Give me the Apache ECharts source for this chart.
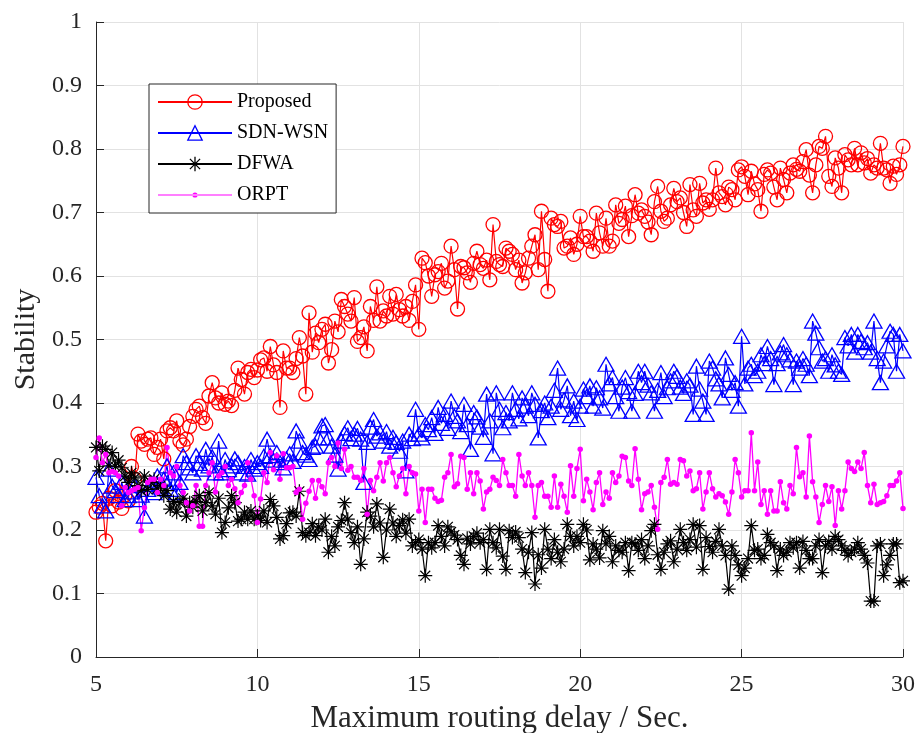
<!DOCTYPE html>
<html>
<head>
<meta charset="utf-8">
<script src="https://cdn.jsdelivr.net/npm/echarts@6/dist/echarts.min.js"></script>
<style>
html,body{margin:0;padding:0;background:#fff;}
#chart{width:920px;height:733px;}
</style>
</head>
<body>
<div id="chart"></div>
<script>
// x grid: 5 to 30 in steps of 0.1 (251 samples)
const xStart = 5, xStep = 0.1;
const xTicks = [5, 10, 15, 20, 25, 30];
const yTicks = [0, 0.1, 0.2, 0.3, 0.4, 0.5, 0.6, 0.7, 0.8, 0.9, 1];
const seriesNames = ['Proposed', 'SDN-WSN', 'DFWA', 'ORPT'];

const proposed = [
0.228,0.236,0.242,0.183,0.250,0.238,0.262,0.244,0.234,0.255,
0.246,0.300,0.280,0.351,0.340,0.335,0.343,0.345,0.319,0.330,
0.343,0.312,0.356,0.361,0.356,0.372,0.340,0.334,0.343,0.363,
0.379,0.390,0.395,0.377,0.368,0.411,0.432,0.408,0.400,0.416,
0.398,0.403,0.396,0.420,0.455,0.437,0.414,0.448,0.453,0.440,
0.452,0.468,0.471,0.450,0.489,0.460,0.448,0.393,0.482,0.455,
0.455,0.448,0.470,0.503,0.474,0.414,0.542,0.480,0.510,0.495,
0.516,0.524,0.463,0.484,0.529,0.512,0.563,0.552,0.540,0.529,
0.566,0.497,0.503,0.520,0.482,0.552,0.530,0.583,0.529,0.545,
0.537,0.568,0.540,0.571,0.547,0.537,0.552,0.530,0.560,0.586,
0.516,0.628,0.621,0.600,0.568,0.602,0.607,0.620,0.581,0.592,
0.647,0.610,0.548,0.615,0.613,0.605,0.590,0.620,0.639,0.618,
0.612,0.625,0.594,0.681,0.623,0.618,0.615,0.644,0.639,0.634,
0.610,0.625,0.589,0.605,0.628,0.647,0.665,0.610,0.702,0.626,
0.576,0.691,0.681,0.678,0.686,0.644,0.647,0.660,0.634,0.650,
0.694,0.662,0.662,0.655,0.639,0.699,0.668,0.647,0.691,0.647,
0.655,0.712,0.683,0.689,0.710,0.662,0.695,0.728,0.699,0.704,
0.694,0.685,0.665,0.717,0.741,0.702,0.686,0.691,0.712,0.738,
0.717,0.723,0.700,0.678,0.744,0.704,0.694,0.746,0.715,0.720,
0.705,0.720,0.770,0.731,0.725,0.712,0.740,0.736,0.720,0.767,
0.772,0.757,0.728,0.765,0.745,0.736,0.702,0.760,0.767,0.762,
0.740,0.720,0.770,0.752,0.731,0.762,0.775,0.768,0.765,0.780,
0.799,0.759,0.731,0.775,0.804,0.801,0.820,0.757,0.741,0.786,
0.770,0.731,0.791,0.783,0.775,0.801,0.775,0.794,0.778,0.785,
0.762,0.775,0.770,0.809,0.770,0.767,0.746,0.773,0.760,0.775,
0.804];

const sdnWsn = [
0.283,0.254,0.238,0.230,0.296,0.269,0.262,0.254,0.275,0.248,
0.254,0.260,0.270,0.248,0.255,0.222,0.264,0.272,0.259,0.285,
0.268,0.280,0.301,0.264,0.290,0.259,0.275,0.317,0.306,0.298,
0.290,0.317,0.305,0.296,0.327,0.301,0.315,0.290,0.340,0.290,
0.311,0.295,0.301,0.312,0.306,0.290,0.300,0.288,0.311,0.296,
0.306,0.300,0.316,0.343,0.317,0.310,0.322,0.306,0.298,0.312,
0.320,0.308,0.356,0.340,0.322,0.318,0.311,0.330,0.332,0.345,
0.364,0.366,0.345,0.332,0.318,0.296,0.340,0.352,0.361,0.344,
0.351,0.360,0.343,0.275,0.338,0.362,0.374,0.348,0.353,0.340,
0.355,0.332,0.346,0.338,0.324,0.340,0.293,0.351,0.344,0.390,
0.351,0.345,0.366,0.358,0.377,0.352,0.393,0.368,0.382,0.360,
0.403,0.379,0.372,0.355,0.398,0.366,0.327,0.385,0.378,0.362,
0.346,0.414,0.372,0.320,0.416,0.390,0.361,0.385,0.372,0.416,
0.390,0.375,0.408,0.395,0.380,0.416,0.398,0.345,0.388,0.400,
0.377,0.395,0.420,0.455,0.390,0.405,0.427,0.380,0.403,0.374,
0.395,0.422,0.410,0.427,0.395,0.424,0.408,0.392,0.461,0.430,
0.440,0.410,0.387,0.425,0.440,0.418,0.387,0.415,0.450,0.432,
0.450,0.428,0.416,0.387,0.420,0.448,0.410,0.424,0.435,0.450,
0.442,0.425,0.415,0.435,0.428,0.382,0.458,0.422,0.403,0.382,
0.466,0.455,0.438,0.430,0.408,0.471,0.445,0.420,0.432,0.395,
0.505,0.430,0.455,0.461,0.443,0.450,0.476,0.462,0.489,0.470,
0.429,0.462,0.479,0.492,0.476,0.468,0.429,0.466,0.455,0.470,
0.461,0.443,0.529,0.510,0.487,0.466,0.470,0.450,0.476,0.460,
0.450,0.445,0.503,0.490,0.508,0.480,0.508,0.497,0.487,0.495,
0.480,0.529,0.470,0.432,0.466,0.490,0.513,0.508,0.450,0.508,
0.482];

const dfwa = [
0.330,0.293,0.332,0.327,0.301,0.322,0.300,0.310,0.298,0.285,
0.275,0.290,0.282,0.270,0.262,0.285,0.264,0.275,0.280,0.265,
0.270,0.254,0.262,0.233,0.245,0.228,0.243,0.250,0.222,0.243,
0.236,0.245,0.254,0.230,0.243,0.259,0.238,0.225,0.250,0.196,
0.212,0.235,0.254,0.243,0.214,0.217,0.228,0.217,0.230,0.217,
0.222,0.215,0.230,0.212,0.248,0.238,0.220,0.186,0.191,0.210,
0.227,0.228,0.222,0.261,0.196,0.191,0.196,0.210,0.191,0.205,
0.200,0.217,0.165,0.190,0.175,0.205,0.215,0.243,0.217,0.196,
0.180,0.205,0.146,0.186,0.228,0.222,0.205,0.241,0.211,0.157,
0.200,0.233,0.211,0.190,0.207,0.216,0.195,0.217,0.175,0.180,
0.185,0.170,0.128,0.180,0.172,0.180,0.207,0.190,0.175,0.205,
0.197,0.192,0.185,0.160,0.146,0.187,0.178,0.190,0.195,0.180,
0.185,0.138,0.201,0.180,0.172,0.201,0.159,0.138,0.199,0.188,
0.197,0.188,0.170,0.133,0.165,0.196,0.115,0.161,0.140,0.201,
0.170,0.155,0.185,0.165,0.150,0.170,0.209,0.190,0.175,0.190,
0.180,0.209,0.200,0.153,0.178,0.170,0.156,0.199,0.178,0.190,
0.150,0.175,0.168,0.165,0.180,0.136,0.180,0.178,0.168,0.185,
0.155,0.175,0.199,0.209,0.161,0.138,0.165,0.178,0.183,0.150,
0.170,0.201,0.180,0.168,0.185,0.209,0.173,0.207,0.138,0.188,
0.174,0.165,0.182,0.201,0.175,0.160,0.107,0.175,0.160,0.145,
0.128,0.140,0.155,0.207,0.168,0.170,0.155,0.160,0.193,0.180,
0.175,0.136,0.170,0.160,0.165,0.180,0.172,0.180,0.140,0.182,
0.168,0.155,0.155,0.175,0.185,0.133,0.175,0.182,0.170,0.190,
0.185,0.175,0.168,0.160,0.165,0.170,0.180,0.170,0.160,0.148,
0.088,0.088,0.175,0.178,0.128,0.145,0.160,0.178,0.178,0.117,
0.120];

const orpt = [
0.314,0.345,0.306,0.319,0.290,0.292,0.290,0.285,0.238,0.267,
0.259,0.262,0.264,0.267,0.199,0.235,0.275,0.280,0.280,0.259,
0.280,0.270,0.330,0.290,0.285,0.300,0.270,0.259,0.243,0.230,
0.238,0.270,0.206,0.206,0.270,0.290,0.306,0.260,0.285,0.290,
0.300,0.270,0.280,0.265,0.243,0.259,0.270,0.306,0.280,0.254,
0.212,0.249,0.290,0.275,0.322,0.295,0.317,0.280,0.320,0.298,
0.298,0.300,0.259,0.264,0.217,0.242,0.261,0.278,0.250,0.278,
0.268,0.257,0.306,0.314,0.300,0.337,0.297,0.327,0.294,0.300,
0.283,0.283,0.278,0.297,0.225,0.278,0.262,0.283,0.306,0.277,
0.306,0.314,0.290,0.268,0.285,0.297,0.257,0.300,0.290,0.288,
0.230,0.264,0.212,0.264,0.264,0.250,0.245,0.247,0.283,0.290,
0.319,0.268,0.273,0.316,0.314,0.264,0.290,0.257,0.290,0.277,
0.233,0.260,0.264,0.283,0.278,0.270,0.311,0.290,0.270,0.270,
0.253,0.319,0.285,0.270,0.290,0.270,0.220,0.270,0.275,0.253,
0.253,0.236,0.285,0.236,0.272,0.253,0.228,0.301,0.253,0.297,
0.327,0.246,0.280,0.260,0.232,0.275,0.290,0.240,0.260,0.250,
0.290,0.275,0.285,0.316,0.314,0.277,0.270,0.328,0.280,0.232,
0.257,0.260,0.270,0.236,0.201,0.275,0.283,0.311,0.272,0.275,
0.272,0.311,0.309,0.285,0.293,0.262,0.265,0.290,0.233,0.260,
0.290,0.265,0.252,0.257,0.254,0.244,0.225,0.260,0.311,0.290,
0.252,0.262,0.262,0.353,0.262,0.307,0.240,0.262,0.225,0.262,
0.230,0.230,0.276,0.243,0.233,0.270,0.257,0.330,0.284,0.290,
0.252,0.348,0.276,0.252,0.212,0.240,0.270,0.245,0.268,0.207,
0.262,0.233,0.262,0.307,0.297,0.292,0.307,0.297,0.322,0.270,
0.243,0.272,0.240,0.243,0.245,0.254,0.270,0.270,0.277,0.290,
0.234];

function pairs(vals) {
  return vals.map((v, i) => [+(xStart + i * xStep).toFixed(1), v]);
}

const FONT = 'Liberation Serif';
const AX = '#262626';
const GRIDC = '#e2e2e2';
const asterisk = 'path://M10,0L10,20M0,10L20,10M2.93,2.93L17.07,17.07M2.93,17.07L17.07,2.93';
const dotLine = 'path://M0,2L74,2L74,3.2L0,3.2Z M34.4,2.6A2.6,2.6 0 1,0 39.6,2.6A2.6,2.6 0 1,0 34.4,2.6Z';

const chart = echarts.init(document.getElementById('chart'), null, {renderer: 'canvas'});
chart.setOption({
  animation: false,
  backgroundColor: '#ffffff',
  grid: {left: 96, right: 17, top: 22, bottom: 76, containLabel: false, outerBoundsMode: 'none'},
  legend: {
    orient: 'vertical',
    left: 149, top: 84,
    itemWidth: 74, itemHeight: 18, itemGap: 11,
    padding: [8, 8, 8, 8],
    borderColor: AX, borderWidth: 1, borderRadius: 0,
    backgroundColor: '#ffffff',
    itemStyle: {borderWidth: 1.3},
    textStyle: {fontFamily: FONT, fontSize: 20, color: '#000', lineHeight: 20},
    data: [
      {name: seriesNames[0]},
      {name: seriesNames[1]},
      {name: seriesNames[2]},
      {name: seriesNames[3], icon: dotLine}
    ]
  },
  xAxis: {
    type: 'value', min: xTicks[0], max: xTicks[xTicks.length - 1], interval: 5,
    name: 'Maximum routing delay / Sec.', nameLocation: 'middle', nameGap: 46,
    nameTextStyle: {fontFamily: FONT, fontSize: 31, color: AX},
    axisLine: {show: true, onZero: false, lineStyle: {color: AX, width: 1}},
    axisTick: {show: true, inside: true, length: 8, lineStyle: {color: AX, width: 1}},
    axisLabel: {fontFamily: FONT, fontSize: 24, color: AX, margin: 16},
    splitLine: {show: true, lineStyle: {color: GRIDC, width: 1}}
  },
  yAxis: {
    type: 'value', min: yTicks[0], max: yTicks[yTicks.length - 1], interval: 0.1,
    name: 'Stability', nameLocation: 'middle', nameGap: 38,
    nameTextStyle: {fontFamily: FONT, fontSize: 30, color: AX},
    axisLine: {show: true, onZero: false, lineStyle: {color: AX, width: 1}},
    axisTick: {show: true, inside: true, length: 8, lineStyle: {color: AX, width: 1}},
    axisLabel: {fontFamily: FONT, fontSize: 24, color: AX, margin: 14,
      formatter: v => String(+v.toFixed(1))},
    splitLine: {show: true, lineStyle: {color: GRIDC, width: 1}}
  },
  series: [
    {
      name: seriesNames[0], type: 'line', data: pairs(proposed),
      symbol: 'circle', symbolSize: 14,
      lineStyle: {color: '#ff0000', width: 1.2},
      itemStyle: {color: 'rgba(255,0,0,0)', borderColor: '#ff0000', borderWidth: 1.3}
    },
    {
      name: seriesNames[1], type: 'line', data: pairs(sdnWsn),
      symbol: 'triangle', symbolSize: [16, 14],
      lineStyle: {color: '#0000ff', width: 1.2},
      itemStyle: {color: 'rgba(0,0,255,0)', borderColor: '#0000ff', borderWidth: 1.3}
    },
    {
      name: seriesNames[2], type: 'line', data: pairs(dfwa),
      symbol: asterisk, symbolSize: 14,
      lineStyle: {color: '#000000', width: 1.2},
      itemStyle: {color: 'rgba(0,0,0,0)', borderColor: '#000000', borderWidth: 1.2}
    },
    {
      name: seriesNames[3], type: 'line', data: pairs(orpt),
      symbol: 'circle', symbolSize: 5.5,
      lineStyle: {color: '#ff00ff', width: 1.3},
      itemStyle: {color: '#ff00ff', borderWidth: 0}
    }
  ]
});
</script>
</body>
</html>
